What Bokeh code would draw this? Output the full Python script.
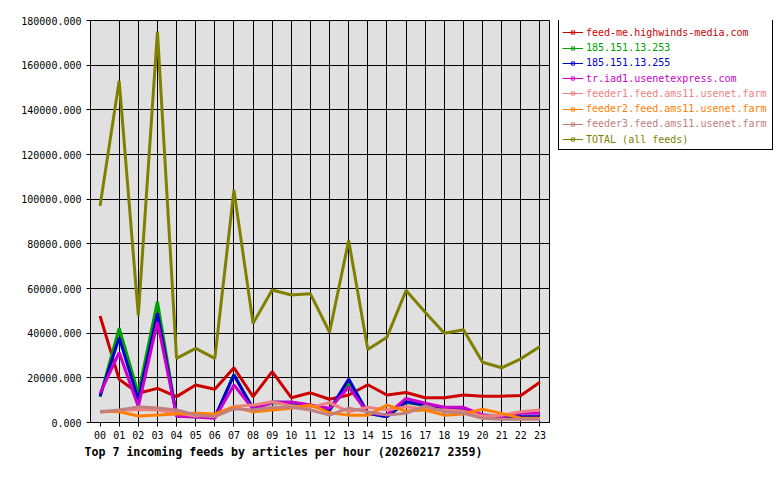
from bokeh.plotting import figure
from bokeh.layouts import row
from bokeh.models import (Legend, LegendItem, PrintfTickFormatter, SingleIntervalTicker,
                          Title, FactorRange, Range1d, ColumnDataSource)
from bokeh.embed import file_html
from bokeh.resources import INLINE

hours = ["%02d" % h for h in range(24)]

feed_names = [
    "feed-me.highwinds-media.com",
    "185.151.13.253",
    "185.151.13.255",
    "tr.iad1.usenetexpress.com",
    "feeder1.feed.ams11.usenet.farm",
    "feeder2.feed.ams11.usenet.farm",
    "feeder3.feed.ams11.usenet.farm",
    "TOTAL (all feeds)",
]
feed_colors = ["#CC0000", "#00A000", "#0000CC", "#CC00CC",
               "#F08080", "#FF8000", "#C08080", "#808000"]

feed_me = [47700, 19300, 13100, 15300, 11600, 16800, 14900, 24500, 11600, 22800, 11100, 13300,
           10400, 12300, 16900, 12300, 13400, 11100, 11100, 12300, 11800, 11800, 12100, 18000]
ip_253 = [11500, 42200, 13000, 54100, 2800, 2600, 2200, 21500, 6300, 8800, 8700, 7600,
          5400, 17500, 4100, 2600, 9000, 7600, 5800, 5500, 3300, 2800, 2500, 2500]
ip_255 = [11800, 38000, 10000, 48900, 3000, 2800, 2300, 21300, 6000, 9200, 8900, 7800,
          5600, 19500, 4100, 2600, 9300, 7800, 5900, 5600, 3400, 2900, 2600, 2600]
usenetexpress = [13000, 31300, 7100, 45100, 2800, 2500, 1900, 16800, 6000, 8900, 9200, 7800,
                 6400, 15800, 4100, 3500, 10800, 8600, 6800, 6800, 3400, 2600, 4100, 4100]
feeder1 = [4600, 5400, 5800, 5600, 4300, 2900, 3300, 7200, 7800, 9300, 7400, 6800,
           8900, 4800, 6800, 5600, 7100, 5900, 5600, 5100, 2900, 3300, 4800, 5600]
feeder2 = [5000, 4800, 2900, 3400, 3800, 4100, 3800, 6900, 4800, 5600, 6400, 7800,
           4400, 3300, 3300, 7800, 5100, 5600, 3300, 3800, 5900, 4100, 1900, 1900]
feeder3 = [4800, 5600, 7000, 6500, 5600, 3400, 2600, 6200, 5600, 6800, 6800, 5600,
           3300, 6400, 4800, 3300, 4100, 7400, 4800, 4100, 1900, 1500, 1500, 1500]
total = [97000, 153000, 48000, 175000, 28700, 33200, 28700, 104000, 44400, 59300, 57100, 57600,
         40400, 81500, 32700, 38200, 59100, 49400, 40000, 41500, 27000, 24500, 28500, 34000]

series = [feed_me, ip_253, ip_255, usenetexpress, feeder1, feeder2, feeder3, total]

MONO = "DejaVu Sans Mono"
BORDER_BOTTOM = 58

p = figure(width=558, height=480, x_range=FactorRange(*hours, range_padding=0),
           y_range=Range1d(0, 180000), output_backend="svg", toolbar_location=None,
           min_border_left=90, min_border_right=9, min_border_top=20,
           min_border_bottom=BORDER_BOTTOM)

p.background_fill_color = "#E0E0E0"
p.border_fill_color = "white"
p.outline_line_color = "black"
p.outline_line_width = 1
p.outline_line_alpha = 1

for g in (p.xgrid, p.ygrid):
    g.grid_line_color = "black"
    g.grid_line_width = 1
    g.grid_line_alpha = 1

p.yaxis.ticker = SingleIntervalTicker(interval=20000)
p.yaxis.formatter = PrintfTickFormatter(format="%.3f")
for ax in (p.xaxis, p.yaxis):
    ax.axis_line_color = "black"
    ax.major_tick_line_color = "black"
    ax.major_tick_in = 0
    ax.major_tick_out = 4
    ax.minor_tick_line_color = None
    ax.major_label_text_font = MONO
    ax.major_label_text_font_size = "10px"
    ax.major_label_text_color = "black"
p.yaxis.major_label_standoff = 5
p.xaxis.major_label_standoff = 4

for vals, col in zip(series, feed_colors):
    p.line(x=hours, y=vals, line_color=col, line_width=3)

title = Title(text="Top 7 incoming feeds by articles per hour (20260217 2359)", align="left",
              text_font=MONO, text_font_size="11.6px", text_font_style="bold",
              text_color="black", offset=-6, standoff=2)
p.add_layout(title, "below")

# legend panel (separate figure so the legend is not clipped by the data frame)
lf = figure(width=222, height=480, x_axis_type=None, y_axis_type=None,
            x_range=Range1d(0, 1), y_range=Range1d(0, 1),
            output_backend="svg", toolbar_location=None,
            min_border_left=0, min_border_right=0, min_border_top=0, min_border_bottom=0)
lf.outline_line_color = None
lf.background_fill_color = "white"
lf.border_fill_color = "white"
lf.xgrid.visible = False
lf.ygrid.visible = False

# the row layout aligns this figure's frame with the main frame
lf_bottom = 480 - BORDER_BOTTOM
box = Legend(items=[LegendItem(label=" ", renderers=[])], location=(0, lf_bottom - 150),
             padding=0, margin=0, glyph_width=1, glyph_height=1, label_standoff=0,
             label_width=212, label_height=132, spacing=0,
             border_line_color="black", border_line_width=1, border_line_alpha=1,
             background_fill_color="white", background_fill_alpha=1, label_text_alpha=0)
lf.add_layout(box)

nan = float("nan")
for i, (name, col) in enumerate(zip(feed_names, feed_colors)):
    # placeholder renderers: they only provide the legend swatch (no visible data)
    src = ColumnDataSource(data=dict(x=[nan], y=[nan]))
    rl = lf.line(x="x", y="y", source=src, line_color=col, line_width=1)
    rm = lf.scatter(x="x", y="y", source=src, marker="square", size=3,
                    line_color=col, fill_color=None, line_width=1)
    yc = 32.3 + 15.25 * i
    lg = Legend(items=[LegendItem(label=name, renderers=[rl, rm])],
                location=(4, lf_bottom - (yc + 7.5)),
                padding=0, margin=0, glyph_width=21, glyph_height=8, label_standoff=3,
                label_height=15, spacing=0, border_line_color=None,
                background_fill_alpha=0, label_text_font=MONO, label_text_font_size="10px",
                label_text_color=col)
    lf.add_layout(lg)

layout = row(p, lf, spacing=0)
open("out.html", "w").write(file_html(layout, INLINE))
